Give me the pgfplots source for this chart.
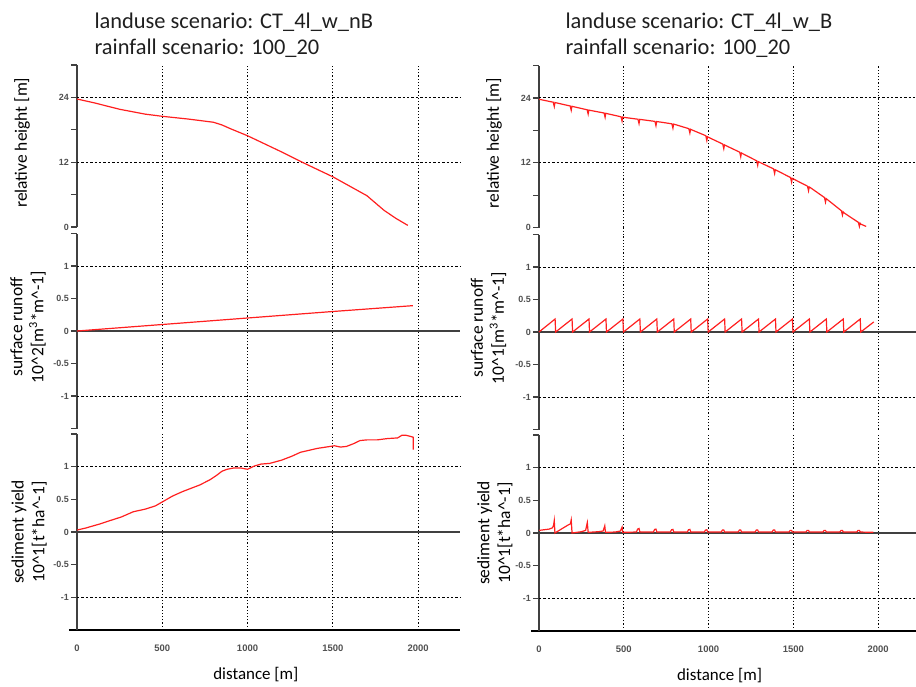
\documentclass[border=0pt]{standalone}
\usepackage{fontspec}
\setmainfont{Carlito}
\newfontfamily\tickfont{Liberation Sans}
\usepackage{pgfplots}
\usepackage{pgfplotstable}
\pgfplotsset{compat=1.18}

\definecolor{axgray}{HTML}{404040}
\definecolor{tickgray}{HTML}{505050}
\definecolor{curve}{HTML}{FF1F1F}

% left: relative height (CT_4l_w_nB)
\pgfplotstableread{
x y
0 23.7
100 23.0
250 21.8
400 20.9
500 20.5
650 20.0
800 19.4
850 18.9
900 18.2
1000 16.9
1100 15.4
1200 13.9
1327 11.9
1400 10.8
1500 9.3
1620 7.2
1700 5.8
1800 3.1
1870 1.6
1940 0.3
}\heightL

% right: relative height (CT_4l_w_B)
\pgfplotstableread{
x y
0 23.75
84 23.2
90 22.4
94 23.15
100 23.1
184 22.5
190 21.7
194 22.45
200 22.4
284 21.8
290 21.0
294 21.75
300 21.7
384 21.2
390 20.4
394 21.15
400 21.1
484 20.5
490 19.7
494 20.45
500 20.4
584 20.05
590 19.25
594 20.02
600 20.0
684 19.65
690 18.85
694 19.62
700 19.6
784 19.2
790 18.4
794 19.15
800 19.1
884 18.3
890 17.5
894 18.2
900 18.1
984 17.0
990 16.1
994 16.8
1000 16.7
1084 15.45
1090 14.6
1094 15.3
1100 15.2
1184 13.95
1190 13.1
1194 13.8
1200 13.7
1284 12.35
1290 11.5
1294 12.2
1300 12.1
1384 10.85
1390 10.0
1394 10.7
1400 10.6
1484 9.25
1490 8.4
1494 9.1
1500 9.0
1584 7.65
1590 6.8
1594 7.5
1600 7.4
1684 5.55
1690 4.7
1694 5.35
1700 5.2
1784 3.1
1790 2.3
1794 2.9
1800 2.7
1884 0.95
1890 0.2
1894 0.8
1900 0.6
1930 0.2
}\heightR

% right: surface runoff (sawtooth)
\pgfplotstableread{
x y
0 0
95 0.2
98 0
195 0.2
198 0
295 0.2
298 0
395 0.2
398 0
495 0.2
498 0
595 0.2
598 0
695 0.2
698 0
795 0.2
798 0
895 0.2
898 0
995 0.2
998 0
1095 0.2
1098 0
1195 0.2
1198 0
1295 0.2
1298 0
1395 0.2
1398 0
1495 0.2
1498 0
1595 0.2
1598 0
1695 0.2
1698 0
1795 0.2
1798 0
1895 0.2
1898 0
1975 0.155
}\runoffR

% left: sediment yield
\pgfplotstableread{
x y
0 0.03
50 0.06
130 0.12
200 0.18
260 0.23
330 0.31
400 0.35
460 0.40
500 0.46
560 0.55
620 0.62
680 0.68
720 0.72
780 0.80
820 0.87
850 0.93
880 0.96
920 0.98
960 0.98
1000 0.96
1040 1.01
1080 1.04
1130 1.05
1200 1.10
1260 1.16
1310 1.22
1360 1.25
1410 1.28
1460 1.30
1510 1.32
1545 1.30
1580 1.31
1620 1.35
1660 1.40
1700 1.41
1760 1.41
1820 1.43
1880 1.44
1905 1.48
1930 1.48
1960 1.46
1972 1.45
1972 1.26
}\sedL

% right: sediment yield
\pgfplotstableread{
x y
0 0.04
60 0.06
80 0.08
86 0.12
90 0.19
94 0.0
100 0.01
170 0.12
185 0.14
190 0.2
195 0.0
250 0.02
275 0.04
285 0.16
290 0.01
350 0.02
378 0.03
388 0.11
392 0.01
450 0.015
480 0.03
490 0.09
494 0.01
575 0.015
582 0.06
590 0.07
595 0.015
675 0.015
682 0.055
690 0.06
695 0.015
775 0.015
782 0.05
790 0.055
795 0.015
875 0.015
882 0.05
890 0.055
895 0.015
975 0.015
982 0.045
990 0.05
995 0.015
1075 0.015
1082 0.045
1090 0.045
1095 0.015
1175 0.015
1182 0.045
1190 0.045
1195 0.015
1275 0.015
1282 0.045
1290 0.045
1295 0.015
1375 0.015
1382 0.045
1390 0.045
1395 0.015
1475 0.015
1482 0.04
1490 0.04
1495 0.015
1575 0.015
1582 0.04
1590 0.04
1595 0.015
1675 0.015
1682 0.04
1690 0.04
1695 0.015
1775 0.015
1782 0.04
1790 0.04
1795 0.015
1875 0.015
1882 0.04
1890 0.04
1895 0.015
1973 0.01
}\sedR

\tikzset{gapgrid/.style={black, line width=0.9bp, dash pattern=on 1.2bp off 2bp}}

\pgfplotsset{
  panel/.style={
    scale only axis, anchor=north west,
    axis y line*=left, axis x line*=bottom,
    axis line style={-},
    x axis line style={draw=none},
    y axis line style={axgray, line width=1.6bp},
    xmin=0,
    xtick={0,500,1000,1500,2000},
    xticklabels={},
    xmajorgrids,
    major x grid style={black, line width=0.9bp, dash pattern=on 1.2bp off 2bp},
    major y grid style={black, line width=0.9bp, dash pattern=on 2.4bp off 2bp},
    xtick style={draw=none},
    ytick style={axgray, line width=1.2bp},
    ytick align=outside, ytick pos=left,
    major tick length=6bp,
    yticklabel style={font=\tickfont\bfseries\fontsize{9}{10}\selectfont, text=tickgray, inner sep=2bp},
    extra y tick style={grid=major, major tick length=0pt},
    extra y tick labels={},
    ylabel style={font=\fontsize{17.5}{21}\selectfont, align=center, anchor=center},
  },
  botpanel/.style={
    x axis line style={draw=black, line width=2.4bp, shorten <=-8bp},
    xticklabels={0,500,1000,1500,2000},
    xticklabel style={font=\tickfont\bfseries\fontsize{9.5}{10}\selectfont, text=tickgray, yshift=-11bp},
    xlabel={distance [m]},
    xlabel style={font=\fontsize{17}{20}\selectfont, anchor=center},
  },
  curveline/.style={curve, line width=1.2bp},
}

\begin{document}
\begin{tikzpicture}
\path[use as bounding box] (0,0) rectangle (916bp,-687bp);

% titles
\node[anchor=base west, font=\fontsize{22.5}{26}\selectfont, text=black!88] at (91bp,-28bp) {landuse scenario: CT\_4l\_w\_nB};
\node[anchor=base west, font=\fontsize{22.5}{26}\selectfont, text=black!88] at (91bp,-54bp) {rainfall scenario: 100\_20};
\node[anchor=base west, font=\fontsize{22.5}{26}\selectfont, text=black!88] at (562bp,-28bp) {landuse scenario: CT\_4l\_w\_B};
\node[anchor=base west, font=\fontsize{22.5}{26}\selectfont, text=black!88] at (562bp,-54bp) {rainfall scenario: 100\_20};

% ---------- left column ----------
\begin{axis}[panel, at={(77bp,-65bp)}, width=383bp, height=162bp,
  xmax=2246, ymin=0, ymax=30, clip=false,
  ytick={0,6,12,18,24,30}, yticklabels={0,,12,,24,},
  extra y ticks={12,24},
  ylabel={relative height [m]},
  ylabel style={at={(axis description cs:-0.1436,0.52)}}]
\draw[gapgrid] (axis cs:500,0) -- ++(0,-7bp);
\draw[gapgrid] (axis cs:1000,0) -- ++(0,-7bp);
\draw[gapgrid] (axis cs:1500,0) -- ++(0,-7bp);
\draw[gapgrid] (axis cs:2000,0) -- ++(0,-7bp);
\addplot[curveline] table {\heightL};
\end{axis}

\begin{axis}[panel, at={(77bp,-233.5bp)}, width=383bp, height=195bp,
  xmax=2246, ymin=-1.5, ymax=1.5, clip=false,
  ytick={-1.5,-1,-0.5,0,0.5,1,1.5}, yticklabels={,-1,-0.5,0,0.5,1,},
  extra y ticks={-1,1},
  ylabel={surface runoff\\10\textasciicircum2[m\textsuperscript{3}*m\textasciicircum-1]},
  ylabel style={at={(axis description cs:-0.128,0.52)}}]
\draw[gapgrid] (axis cs:500,-1.5) -- ++(0,-7bp);
\draw[gapgrid] (axis cs:1000,-1.5) -- ++(0,-7bp);
\draw[gapgrid] (axis cs:1500,-1.5) -- ++(0,-7bp);
\draw[gapgrid] (axis cs:2000,-1.5) -- ++(0,-7bp);
\draw[axgray, line width=1.4bp] (axis cs:0,0) -- (axis cs:2246,0);
\addplot[curveline] coordinates {(0,0) (500,0.1) (1000,0.2) (1500,0.3) (1970,0.39)};
\end{axis}

\begin{axis}[panel, botpanel, at={(77bp,-434bp)}, width=383bp, height=196bp,
  xmax=2246, ymin=-1.5, ymax=1.5,
  ytick={-1.5,-1,-0.5,0,0.5,1,1.5}, yticklabels={,-1,-0.5,0,0.5,1,},
  extra y ticks={-1,1},
  ylabel={sediment yield\\10\textasciicircum1[t*ha\textasciicircum-1]},
  ylabel style={at={(axis description cs:-0.125,0.5)}},
  xlabel style={at={(axis description cs:0.467,0)}, yshift=-45bp}]
\draw[axgray, line width=1.4bp] (axis cs:0,0) -- (axis cs:2246,0);
\addplot[curveline] table {\sedL};
\end{axis}

% ---------- right column ----------
\begin{axis}[panel, at={(539bp,-65.5bp)}, width=377bp, height=162bp,
  xmax=2224, ymin=0, ymax=30, clip=false,
  ytick={0,6,12,18,24,30}, yticklabels={0,,12,,24,},
  extra y ticks={12,24},
  ylabel={relative height [m]},
  ylabel style={at={(axis description cs:-0.119,0.52)}}]
\draw[gapgrid] (axis cs:500,0) -- ++(0,-7bp);
\draw[gapgrid] (axis cs:1000,0) -- ++(0,-7bp);
\draw[gapgrid] (axis cs:1500,0) -- ++(0,-7bp);
\draw[gapgrid] (axis cs:2000,0) -- ++(0,-7bp);
\addplot[curveline] table {\heightR};
\end{axis}

\begin{axis}[panel, at={(539bp,-234.5bp)}, width=377bp, height=195bp,
  xmax=2224, ymin=-1.5, ymax=1.5, clip=false,
  ytick={-1.5,-1,-0.5,0,0.5,1,1.5}, yticklabels={,-1,-0.5,0,0.5,1,},
  extra y ticks={-1,1},
  ylabel={surface runoff\\10\textasciicircum1[m\textsuperscript{3}*m\textasciicircum-1]},
  ylabel style={at={(axis description cs:-0.134,0.52)}}]
\draw[gapgrid] (axis cs:500,-1.5) -- ++(0,-7bp);
\draw[gapgrid] (axis cs:1000,-1.5) -- ++(0,-7bp);
\draw[gapgrid] (axis cs:1500,-1.5) -- ++(0,-7bp);
\draw[gapgrid] (axis cs:2000,-1.5) -- ++(0,-7bp);
\draw[axgray, line width=1.4bp] (axis cs:0,0) -- (axis cs:2224,0);
\addplot[curveline] table {\runoffR};
\end{axis}

\begin{axis}[panel, botpanel, at={(539bp,-435bp)}, width=377bp, height=196bp,
  xmax=2224, ymin=-1.5, ymax=1.5,
  ytick={-1.5,-1,-0.5,0,0.5,1,1.5}, yticklabels={,-1,-0.5,0,0.5,1,},
  extra y ticks={-1,1},
  ylabel={sediment yield\\10\textasciicircum1[t*ha\textasciicircum-1]},
  ylabel style={at={(axis description cs:-0.117,0.5)}},
  xlabel style={at={(axis description cs:0.479,0)}, yshift=-45bp}]
\draw[axgray, line width=1.4bp] (axis cs:0,0) -- (axis cs:2224,0);
\addplot[curveline] table {\sedR};
\end{axis}
\end{tikzpicture}
\end{document}
